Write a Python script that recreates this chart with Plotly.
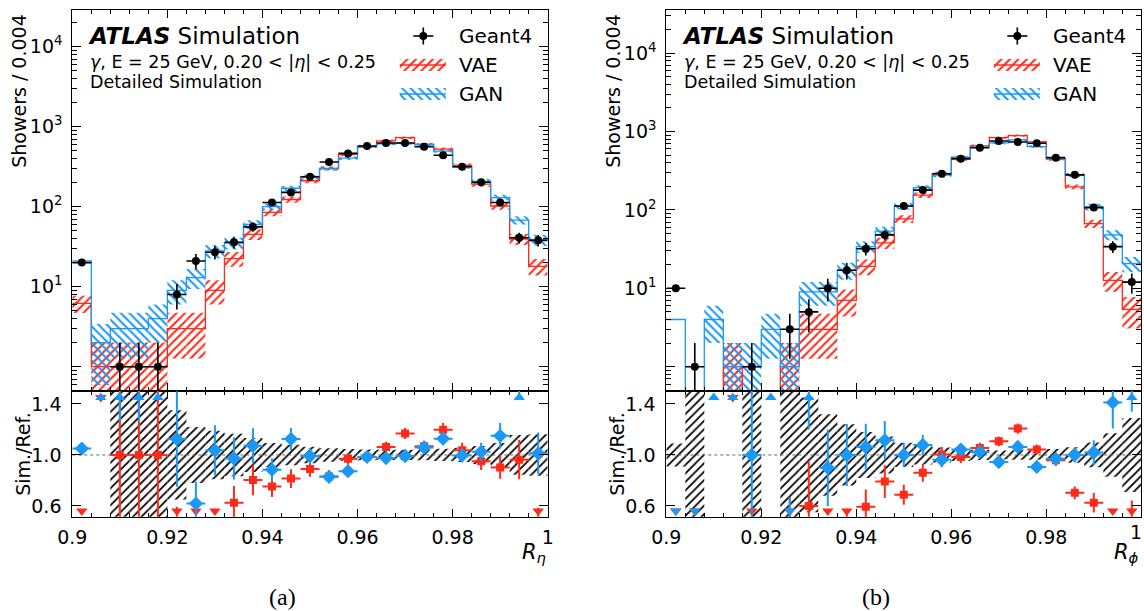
import math
import plotly.graph_objects as go

# ---------------- data ----------------
BIN_LO = 0.9
BIN_W = 0.004
N_BINS = 25

# panel (a): R_eta
G4_ETA = [20, 0, 1, 1, 1, 8, 21, 27, 36, 56, 113, 151, 237, 362, 464, 574, 625, 625, 562, 439, 316, 202, 113, 41, 38]
VAE_ETA = [6.2, 1, 1, 1, 1, 3, 3, 9, 22.5, 45, 85, 123, 211, 301, 450, 565, 664, 730, 600, 526, 328, 192, 102, 39.5, 18]
GAN_ETA = [21, 2, 3, 3, 4, 9, 13, 28, 35, 60, 100, 170, 235, 300, 405, 565, 610, 620, 595, 495, 315, 207, 130, 68, 38.5]
# relative Geant4 uncertainty (hatched band of the ratio panel)
BAND_ETA = [0, 0, 1, 1, 1, 0.35, 0.22, 0.19, 0.167, 0.134, 0.094, 0.081, 0.065, 0.053, 0.046, 0.042, 0.04, 0.04,
            0.042, 0.048, 0.056, 0.07, 0.094, 0.156, 0.162]
FIRST_BIN_ERR_ETA = dict(vae=1.5, gan=0.0)

# panel (b): R_phi
G4_PHI = [10, 1, 0, 0, 1, 0, 3, 5, 10, 17, 32, 48, 112, 179, 289, 451, 621, 757, 735, 707, 464, 280, 107, 34, 12]
VAE_PHI = [0, 0, 0, 1, 0, 0, 1, 3, 3, 7, 19, 38, 77, 154, 290, 444, 655, 838, 887, 738, 445, 197, 67, 12.6, 5.4]
GAN_PHI = [4, 0, 4, 1, 1, 3, 1, 9, 9, 17, 34, 53.5, 112, 193, 278, 470, 636, 715, 781, 641, 450, 280, 109, 48, 20.6]
BAND_PHI = [0.09, 1, 0, 0, 1, 0, 0.58, 0.45, 0.32, 0.24, 0.18, 0.145, 0.095, 0.075, 0.059, 0.047, 0.04, 0.036,
            0.037, 0.038, 0.046, 0.06, 0.097, 0.17, 0.29]
FIRST_BIN_ERR_PHI = dict(vae=0.0, gan=0.0)

X_TICKS = [0.9, 0.92, 0.94, 0.96, 0.98, 1.0]
X_TICKTEXT = ["0.9", "0.92", "0.94", "0.96", "0.98", "1"]
Y_TICKS = [1, 10, 100, 1000, 10000]
Y_TICKTEXT = [" ", "10<sup>1</sup>", "10<sup>2</sup>", "10<sup>3</sup>", "10<sup>4</sup>"]
R_TICKS = [0.6, 1.0, 1.4]
R_TICKTEXT = ["0.6", "1.0", "1.4"]

# ---------------- style / geometry ----------------
W, H = 1144, 611
RED = "#ff2a1a"
BLUE = "#1b98f5"
FONT = "DejaVu Sans"
Y_TOP, Y_MID, Y_BOT = 10.0, 390.7, 516.7
R_RANGE = [0.516, 1.504]
R_TOPMARK, R_BOTMARK = 1.45, 0.56

PANELS = [
    dict(x0=72.3, x1=547.7, logrange=[-0.30, 4.459], g4=G4_ETA, vae=VAE_ETA, gan=GAN_ETA, band=BAND_ETA,
         first=FIRST_BIN_ERR_ETA, xtitle="<i>R<sub>η</sub></i>", tag="(a)", last_label_note=False),
    dict(x0=666.3, x1=1141.3, logrange=[-0.306, 4.55], g4=G4_PHI, vae=VAE_PHI, gan=GAN_PHI, band=BAND_PHI,
         first=FIRST_BIN_ERR_PHI, xtitle="<i>R<sub>ϕ</sub></i>", tag="(b)", last_label_note=True),
]

edges = [BIN_LO + BIN_W * i for i in range(N_BINS + 1)]
centers = [BIN_LO + BIN_W * (i + 0.5) for i in range(N_BINS)]
TINY = 1e-4


def px2x(px):
    return px / W


def px2y(py):
    return 1 - py / H


tickfont = dict(family=FONT, size=19, color="black")
minor_log = [m * 10 ** k for k in range(-1, 5) for m in range(2, 10)]

fig = go.Figure()
layout = dict(width=W, height=H, autosize=False,
              margin=dict(l=0, r=0, t=0, b=0, pad=0, autoexpand=False), paper_bgcolor="white",
              plot_bgcolor="rgba(0,0,0,0)", showlegend=False, barmode="overlay",
              font=dict(family=FONT, color="black"))
annotations = []


def seg_trace(xs, ys, color, width, xa, ya):
    return go.Scatter(x=xs, y=ys, mode="lines", line=dict(color=color, width=width), xaxis=xa, yaxis=ya,
                      hoverinfo="skip", showlegend=False)


def note(px, py, text, size, family=FONT, xanchor="left", angle=0):
    return dict(x=px2x(px), y=px2y(py), xref="paper", yref="paper", text=text, showarrow=False,
                xanchor=xanchor, yanchor="middle", textangle=angle,
                font=dict(family=family, size=size, color="black"))


def sim_errors(vals, first_err):
    errs = [math.sqrt(v) if v > 0 else 0.0 for v in vals]
    errs[0] = first_err
    return errs


for p_i, P in enumerate(PANELS):
    n_up = 2 * p_i + 1
    n_lo = 2 * p_i + 2
    xa_up, ya_up = ("x%d" % n_up if n_up > 1 else "x"), ("y%d" % n_up if n_up > 1 else "y")
    xa_lo, ya_lo = "x%d" % n_lo, "y%d" % n_lo
    key_up = "" if n_up == 1 else str(n_up)
    key_lo = str(n_lo)
    xdom = [px2x(P["x0"]), px2x(P["x1"])]

    xt = list(X_TICKTEXT)
    if P["last_label_note"]:
        xt[-1] = " "
    common_x = dict(domain=xdom, range=[0.9, 1.0], showgrid=False, zeroline=False, showline=True,
                    linecolor="black", linewidth=1, mirror="allticks", ticks="inside", ticklen=8,
                    tickwidth=1, tickcolor="black", tickmode="array", tickvals=X_TICKS, ticktext=xt,
                    tickfont=tickfont, automargin=False,
                    minor=dict(ticks="inside", ticklen=4, tickwidth=1, tickcolor="black", dtick=BIN_W, tick0=0.9))
    layout["xaxis" + key_up] = dict(common_x, anchor=ya_up, showticklabels=False)
    layout["xaxis" + key_lo] = dict(common_x, anchor=ya_lo, showticklabels=True, ticklabelstandoff=3)
    layout["yaxis" + key_up] = dict(domain=[px2y(Y_MID), px2y(Y_TOP)], anchor=xa_up, type="log",
                                    range=P["logrange"], showgrid=False, zeroline=False, showline=True,
                                    linecolor="black", linewidth=1, mirror="allticks", ticks="inside",
                                    ticklen=9, tickwidth=1, tickcolor="black", tickmode="array",
                                    tickvals=Y_TICKS, ticktext=Y_TICKTEXT, tickfont=tickfont,
                                    ticklabelstandoff=5, automargin=False,
                                    minor=dict(ticks="inside", ticklen=5, tickwidth=1, tickcolor="black",
                                               tickmode="array", tickvals=minor_log))
    layout["yaxis" + key_lo] = dict(domain=[px2y(Y_BOT), px2y(Y_MID)], anchor=xa_lo, range=R_RANGE,
                                    showgrid=False, zeroline=False, showline=True, linecolor="black",
                                    linewidth=1, mirror="allticks", ticks="inside", ticklen=9, tickwidth=1,
                                    tickcolor="black", tickmode="array", tickvals=R_TICKS,
                                    ticktext=R_TICKTEXT, tickfont=tickfont, ticklabelstandoff=6,
                                    automargin=False)

    g4, vae, gan, band = P["g4"], P["vae"], P["gan"], P["band"]
    vae_err = sim_errors(vae, P["first"]["vae"])
    gan_err = sim_errors(gan, P["first"]["gan"])
    g4_err = [b * g for b, g in zip(band, g4)]

    # ---- upper: hatched stat bands of the simulations
    for vals, errs, color, shape in ((vae, vae_err, RED, "/"), (gan, gan_err, BLUE, "\\")):
        xs, lo, hgt = [], [], []
        for c, v, e in zip(centers, vals, errs):
            if v <= 0 or e <= 0:
                continue
            l = max(v - e, TINY)
            xs.append(c)
            lo.append(l)
            hgt.append(v + e - l)
        fig.add_trace(go.Bar(x=xs, y=hgt, base=lo, width=BIN_W, xaxis=xa_up, yaxis=ya_up,
                             marker=dict(color="rgba(0,0,0,0)", line=dict(width=0),
                                         pattern=dict(shape=shape, fgcolor=color, bgcolor="rgba(0,0,0,0)",
                                                      size=6, solidity=0.35, fillmode="replace")),
                             hoverinfo="skip", showlegend=False))

    # ---- upper: step histograms
    for vals, color in ((vae, RED), (gan, BLUE)):
        ys = [v if v > 0 else TINY for v in vals]
        ys = ys + [ys[-1]]
        fig.add_trace(go.Scatter(x=edges, y=ys, mode="lines", line=dict(color=color, width=1.3, shape="hv"),
                                 xaxis=xa_up, yaxis=ya_up, hoverinfo="skip", showlegend=False))

    # ---- upper: Geant4 points with error bars
    ex, ey, mx, my = [], [], [], []
    for c, v, e in zip(centers, g4, g4_err):
        if v <= 0:
            continue
        if e > 0:
            ex += [c, c, None]
            ey += [max(v - e, TINY), v + e, None]
        ex += [c - BIN_W / 2, c + BIN_W / 2, None]
        ey += [v, v, None]
        mx.append(c)
        my.append(v)
    fig.add_trace(seg_trace(ex, ey, "black", 1.6, xa_up, ya_up))
    fig.add_trace(go.Scatter(x=mx, y=my, mode="markers", marker=dict(color="black", size=8, symbol="circle"),
                             xaxis=xa_up, yaxis=ya_up, hoverinfo="skip", showlegend=False))

    # ---- ratio: Geant4 uncertainty band
    bx, bb, bh = [], [], []
    for c, e in zip(centers, band):
        if e <= 0:
            continue
        bx.append(c)
        bb.append(1 - e)
        bh.append(2 * e)
    fig.add_trace(go.Bar(x=bx, y=bh, base=bb, width=BIN_W, xaxis=xa_lo, yaxis=ya_lo,
                         marker=dict(color="rgba(0,0,0,0)", line=dict(width=0),
                                     pattern=dict(shape="/", fgcolor="black", bgcolor="rgba(0,0,0,0)",
                                                  size=6, solidity=0.3, fillmode="replace")),
                         hoverinfo="skip", showlegend=False))
    fig.add_trace(go.Scatter(x=[0.9, 1.0], y=[1, 1], mode="lines",
                             line=dict(color="#666666", width=1, dash="dot"),
                             xaxis=xa_lo, yaxis=ya_lo, hoverinfo="skip", showlegend=False))

    # ---- ratio points
    for vals, errs, color, sym, msize, top_sym in ((vae, vae_err, RED, "square", 8, "triangle-down"),
                                                   (gan, gan_err, BLUE, "diamond", 11, "triangle-up")):
        sx, sy, nx, ny, tx, ty, dx, dy = [], [], [], [], [], [], [], []
        for c, g, s, se in zip(centers, g4, vals, errs):
            if g <= 0:
                if s > 0:
                    tx.append(c)
                    ty.append(R_TOPMARK)
                continue
            r = s / g
            e = se / g
            if e > 0:
                sx += [c, c, None]
                sy += [r - e, r + e, None]
            if R_RANGE[0] <= r <= R_RANGE[1]:
                sx += [c - BIN_W / 2, c + BIN_W / 2, None]
                sy += [r, r, None]
                nx.append(c)
                ny.append(r)
            elif r > R_RANGE[1]:
                tx.append(c)
                ty.append(R_TOPMARK)
            else:
                dx.append(c)
                dy.append(R_BOTMARK)
        fig.add_trace(seg_trace(sx, sy, color, 2, xa_lo, ya_lo))
        fig.add_trace(go.Scatter(x=nx, y=ny, mode="markers", marker=dict(color=color, size=msize, symbol=sym),
                                 xaxis=xa_lo, yaxis=ya_lo, hoverinfo="skip", showlegend=False))
        fig.add_trace(go.Scatter(x=tx, y=ty, mode="markers", marker=dict(color=color, size=10, symbol=top_sym),
                                 xaxis=xa_lo, yaxis=ya_lo, hoverinfo="skip", showlegend=False))
        fig.add_trace(go.Scatter(x=dx, y=dy, mode="markers",
                                 marker=dict(color=color, size=10, symbol="triangle-down"),
                                 xaxis=xa_lo, yaxis=ya_lo, hoverinfo="skip", showlegend=False))

    # ---- texts
    x0 = P["x0"]
    annotations += [
        note(x0 + 14, 36, "<b><i>ATLAS</i></b> Simulation", 23),
        note(x0 + 16, 62.5, "<i>γ</i>, E = 25 GeV, 0.20 &lt; |<i>η</i>| &lt; 0.25", 17.5),
        note(x0 + 16, 82, "Detailed Simulation", 17.5),
        note(x0 + 385, 36, "Geant4", 20),
        note(x0 + 385, 65, "VAE", 20),
        note(x0 + 385, 94, "GAN", 20),
        note(x0 - 53.5, 91, "Showers / 0.004", 19, xanchor="center", angle=-90),
        note(x0 - 49.5, 454, "Sim./Ref.", 19, xanchor="center", angle=-90),
        note(P["x1"], 553, P["xtitle"], 21, xanchor="right"),
        note(x0 + 210, 597, P["tag"], 24, family="Liberation Serif", xanchor="center"),
    ]
    if P["last_label_note"]:
        annotations.append(note(W - 0.5, 531.5, X_TICKTEXT[-1], 19, xanchor="right"))

    # ---- legend symbols (overlay pixel axes)
    lx = x0 + 351
    fig.add_trace(seg_trace([lx - 10, lx + 10, None, lx, lx], [36, 36, None, 27.5, 44.5], "black", 1.6,
                            "x5", "y5"))
    fig.add_trace(go.Scatter(x=[lx], y=[36], mode="markers", marker=dict(color="black", size=8),
                             xaxis="x5", yaxis="y5", hoverinfo="skip", showlegend=False))
    for yc, color, shape in ((65, RED, "/"), (94, BLUE, "\\")):
        fig.add_trace(go.Bar(x=[x0 + 350.5], y=[12], base=[yc - 6], width=46, xaxis="x5", yaxis="y5",
                             marker=dict(color="rgba(0,0,0,0)", line=dict(width=0),
                                         pattern=dict(shape=shape, fgcolor=color, bgcolor="rgba(0,0,0,0)",
                                                      size=6, solidity=0.35, fillmode="replace")),
                             hoverinfo="skip", showlegend=False))
        fig.add_trace(seg_trace([x0 + 327.5, x0 + 373.5], [yc, yc], color, 1.3, "x5", "y5"))

layout["xaxis5"] = dict(domain=[0, 1], anchor="y5", range=[0, W], visible=False, fixedrange=True,
                        automargin=False)
layout["yaxis5"] = dict(domain=[0, 1], anchor="x5", range=[H, 0], visible=False, fixedrange=True,
                        automargin=False)
layout["annotations"] = annotations
fig.update_layout(**layout)
fig.write_html("out.html", config={"responsive": False, "displayModeBar": False},
               post_script="document.body.style.margin='0';document.body.style.overflow='hidden';")
